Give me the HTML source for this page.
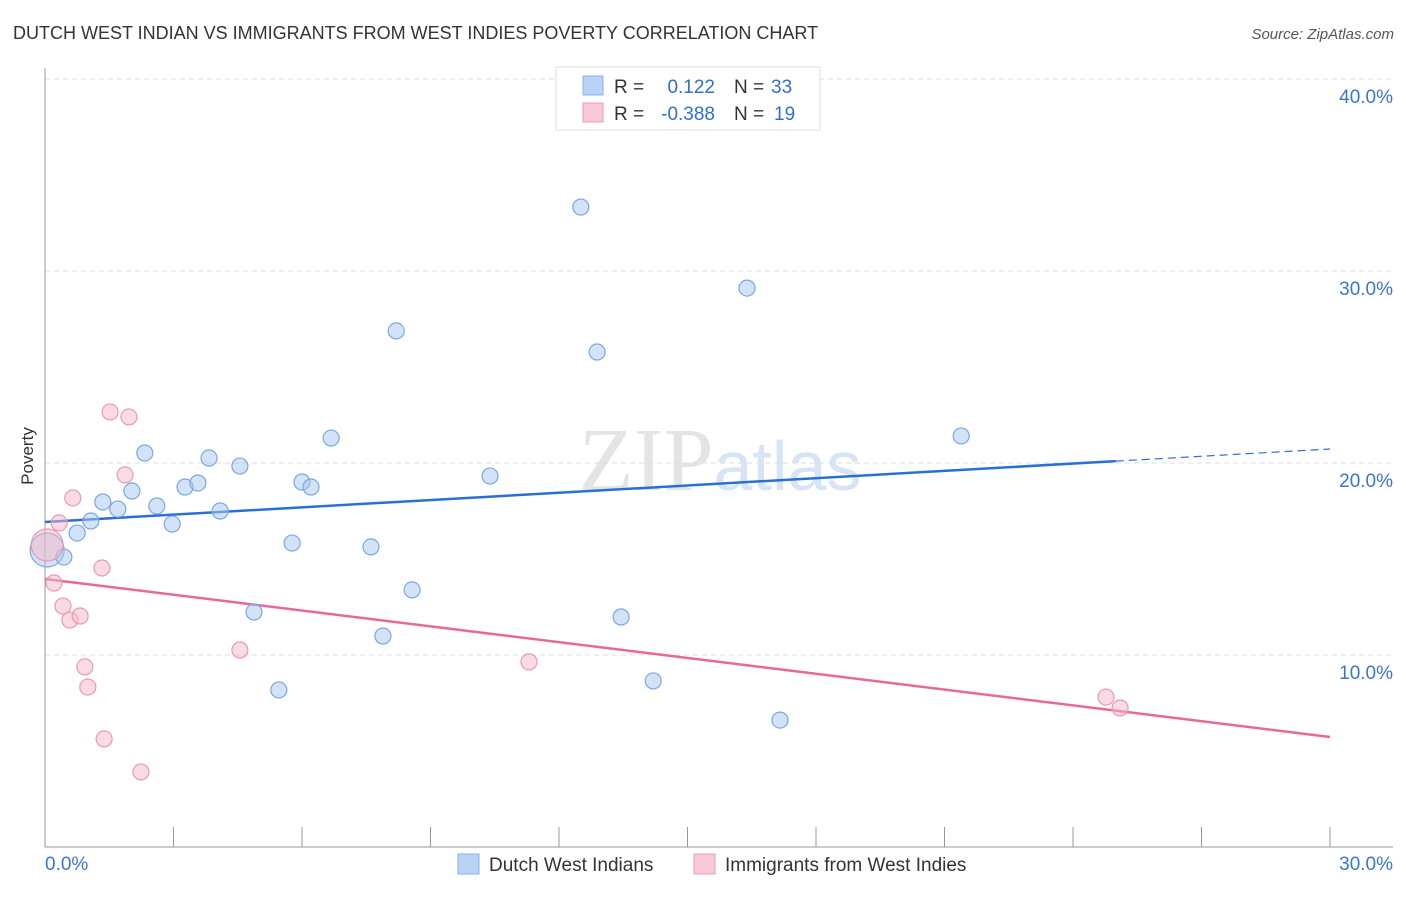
<!DOCTYPE html>
<html><head><meta charset="utf-8"><style>
body{margin:0;background:#fff;font-family:"Liberation Sans",sans-serif;}
</style></head><body>
<svg id="chart" width="1406" height="892" xmlns="http://www.w3.org/2000/svg" font-family="Liberation Sans, sans-serif">
<text x="13" y="39" font-size="18" fill="#333">DUTCH WEST INDIAN VS IMMIGRANTS FROM WEST INDIES POVERTY CORRELATION CHART</text>
<text x="1394" y="39" font-size="15" fill="#555" font-style="italic" text-anchor="end">Source: ZipAtlas.com</text>
<text x="720" y="490" font-size="90" fill="#e4e4e4" text-anchor="middle" font-family="Liberation Serif, serif">ZIP<tspan fill="#d6e4f5" font-family="Liberation Sans, sans-serif" font-size="70">atlas</tspan></text>
<g id="grid"></g><g id="axes"></g><g id="lines"></g><g id="points"></g>
<text transform="translate(33,456) rotate(-90)" font-size="17" fill="#333" text-anchor="middle">Poverty</text>
<g>
<rect x="556" y="67" width="264" height="63" fill="#fff" stroke="#ddd"/>
<rect x="583" y="76" width="20" height="19" fill="#b8d3f5" stroke="#8ab2e8"/>
<rect x="583" y="103" width="20" height="19" fill="#fac8d6" stroke="#ee9ab4"/>
<text x="614" y="93" font-size="19" fill="#333">R = </text><text x="715" y="93" font-size="19" fill="#2f6fd1" text-anchor="end">0.122</text>
<text x="734" y="93" font-size="19" fill="#333">N = </text><text x="771" y="93" font-size="19" fill="#2f6fd1">33</text>
<text x="614" y="120" font-size="19" fill="#333">R = </text><text x="715" y="120" font-size="19" fill="#2f6fd1" text-anchor="end">-0.388</text>
<text x="734" y="120" font-size="19" fill="#333">N = </text><text x="774" y="120" font-size="19" fill="#2f6fd1">19</text>
</g>
<g>
<rect x="458" y="854" width="21" height="20" fill="#b8d3f5" stroke="#8ab2e8"/>
<text x="489" y="871" font-size="19" fill="#333">Dutch West Indians</text>
<rect x="694" y="854" width="21" height="20" fill="#fac8d6" stroke="#ee9ab4"/>
<text x="725" y="871" font-size="19" fill="#333">Immigrants from West Indies</text>
</g>
</svg>
<script>
const blueX=[0.05,0.44,0.75,1.07,1.35,1.70,2.03,2.33,2.61,2.97,3.27,3.57,3.83,4.09,4.55,4.88,5.46,5.77,6.00,6.21,6.68,7.61,7.89,8.20,8.57,10.39,12.51,12.89,13.45,14.20,16.39,17.16,21.39];
const blueY=[15.47,15.10,16.35,16.98,17.97,17.60,18.54,20.52,17.76,16.82,18.75,18.96,20.26,17.50,19.84,12.24,8.18,15.83,19.01,18.75,21.30,15.63,10.99,26.88,13.39,19.32,33.33,25.78,11.98,8.65,29.11,6.61,21.41];
const pinkX=[0.05,0.21,0.33,0.42,0.58,0.65,0.82,0.93,1.00,1.33,1.38,1.52,1.87,1.96,2.24,4.55,11.30,24.77,25.10];
const pinkY=[15.73,13.75,16.88,12.55,11.82,18.18,12.03,9.38,8.33,14.53,5.63,22.66,19.38,22.40,3.91,10.26,9.64,7.81,7.24];
const yTicks=[10,20,30,40];
const yTickLabels=["10.0%","20.0%","30.0%","40.0%"];
const xTicks=[3,6,9,12,15,18,21,24,27,30];
const blueTrend=[16.93,20.73]; // at x=0, x=30
const blueSolidEnd=25;
const pinkTrend=[13.96,5.73];
const NS="http://www.w3.org/2000/svg";
const sx=v=>45+v*42.833, sy=v=>847-v*19.2;
function mk(tag,attrs,parent){const e=document.createElementNS(NS,tag);for(const k in attrs)e.setAttribute(k,attrs[k]);document.getElementById(parent).appendChild(e);return e;}
yTicks.forEach((t,i)=>{
 const g=mk('line',{x1:45,x2:1393,y1:sy(t),y2:sy(t),stroke:'#ddd','stroke-dasharray':'5,4'},'grid');
 
 
 const l=mk('text',{x:1393,y:sy(t)+24,'font-size':19,fill:'#3a75d0','text-anchor':'end'},'grid');
 l.textContent=yTickLabels[i];
 
 
});
const ax=mk('line',{x1:45,x2:45,y1:68,y2:847,stroke:'#999'},'axes');


const bx=mk('line',{x1:45,x2:1393,y1:847,y2:847,stroke:'#999'},'axes');


xTicks.forEach(t=>{
 const k=mk('line',{x1:sx(t),x2:sx(t),y1:827,y2:847,stroke:'#999'},'axes');
 
 
});
const x0=mk('text',{x:45,y:870,'font-size':19,fill:'#3a75d0'},'axes');x0.textContent='0.0%';


const x1=mk('text',{x:1393,y:870,'font-size':19,fill:'#3a75d0','text-anchor':'end'},'axes');x1.textContent='30.0%';


const bAt=x=>blueTrend[0]+(blueTrend[1]-blueTrend[0])*x/30;
const bl=mk('line',{x1:sx(0),y1:sy(bAt(0)),x2:sx(blueSolidEnd),y2:sy(bAt(blueSolidEnd)),stroke:'#2a6fd6','stroke-width':2.5},'lines');


const bd=mk('line',{x1:sx(blueSolidEnd),y1:sy(bAt(blueSolidEnd)),x2:sx(30),y2:sy(bAt(30)),stroke:'#2a6fd6','stroke-width':1.2,'stroke-dasharray':'8,5'},'lines');


const pl=mk('line',{x1:sx(0),y1:sy(pinkTrend[0]),x2:sx(30),y2:sy(pinkTrend[1]),stroke:'#e8689a','stroke-width':2.5},'lines');


blueX.forEach((x,i)=>{
 const c=mk('circle',{cx:sx(x),cy:sy(blueY[i]),r:i===0?17:8,fill:'rgba(168,200,240,0.5)',stroke:'#7aa7e0','stroke-width':1.2},'points');
 
 
});
pinkX.forEach((x,i)=>{
 const c=mk('circle',{cx:sx(x),cy:sy(pinkY[i]),r:i===0?16:8,fill:'rgba(245,184,200,0.5)',stroke:'#eb98b2','stroke-width':1.2},'points');
 
 
});
</script>
</body></html>
